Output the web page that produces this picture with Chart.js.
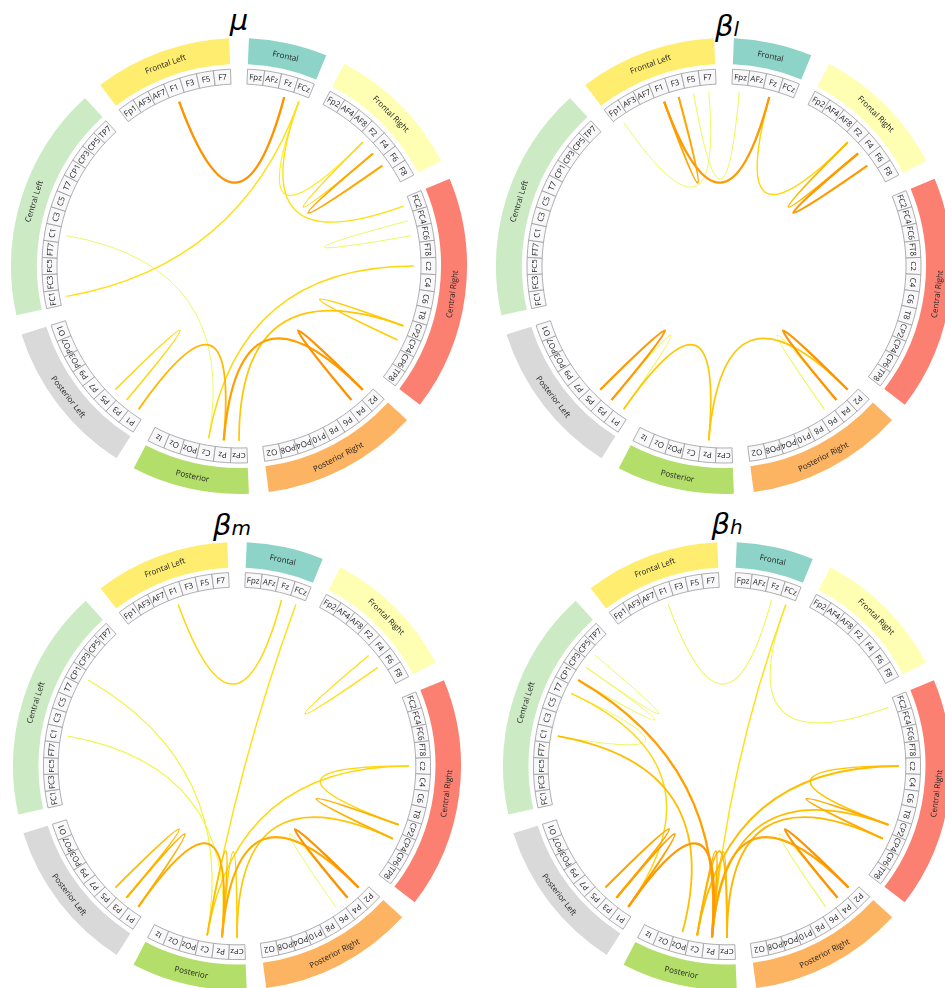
<!DOCTYPE html>
<html>
<head>
<meta charset="utf-8">
<script src="https://cdn.jsdelivr.net/npm/chart.js@4.4.1/dist/chart.umd.min.js"></script>
<style>
  html, body { margin: 0; padding: 0; background: #fff; width: 945px; height: 988px; overflow: hidden; }
  canvas { position: absolute; }
  .title { position: absolute; font-family: "DejaVu Sans"; font-style: italic; font-size: 29px; line-height: 1; color: #000; transform: translateX(-50%); white-space: nowrap; }
  .title span { font-size: 20px; }
</style>
</head>
<body>
<div class="title" style="left:239px; top:6px;">μ</div>
<div class="title" style="left:727px; top:12px;">β<span>l</span></div>
<div class="title" style="left:232px; top:511px;">β<span>m</span></div>
<div class="title" style="left:727px; top:510px;">β<span>h</span></div>
<canvas id="mu"></canvas>
<canvas id="betaLow"></canvas>
<canvas id="betaMid"></canvas>
<canvas id="betaHigh"></canvas>
<script>
var regionNames = ['Frontal', 'Frontal Right', 'Central Right', 'Posterior Right', 'Posterior', 'Posterior Left', 'Central Left', 'Frontal Left'];
var regionColors = ['#8dd3c7', '#ffffb3', '#fb8072', '#fdb462', '#b3de69', '#d9d9d9', '#ccebc5', '#ffed6f'];
var regionElectrodes = [
  ['Fpz', 'AFz', 'Fz', 'FCz'],
  ['Fp2', 'AF4', 'AF8', 'F2', 'F4', 'F6', 'F8'],
  ['FC2', 'FC4', 'FC6', 'FT8', 'C2', 'C4', 'C6', 'T8', 'CP2', 'CP4', 'CP6', 'TP8'],
  ['P2', 'P4', 'P6', 'P8', 'P10', 'PO4', 'PO8', 'O2'],
  ['CPz', 'Pz', 'Cz', 'POz', 'Oz', 'Iz'],
  ['P1', 'P3', 'P5', 'P7', 'P9', 'PO3', 'PO7', 'O1'],
  ['FC1', 'FC3', 'FC5', 'FT7', 'C1', 'C3', 'C5', 'T7', 'CP1', 'CP3', 'CP5', 'TP7'],
  ['Fp1', 'AF3', 'AF7', 'F1', 'F3', 'F5', 'F7']
];

// connections per band: [from, to, strength 0..1]
var muLinks = [
  ['F1', 'Fz', 0.85], ['FCz', 'FC1', 0.3], ['FCz', 'F2', 0.2], ['FCz', 'FC2', 0.3],
  ['F2', 'F4', 0.35], ['F4', 'F6', 0.7], ['FC4', 'FC6', 0.05], ['C1', 'Cz', 0.05],
  ['C2', 'Cz', 0.35], ['CP2', 'CP4', 0.4], ['CP2', 'CPz', 0.45], ['P2', 'P4', 0.85],
  ['Pz', 'P2', 0.75], ['P1', 'Pz', 0.55], ['P3', 'P5', 0.35]
];
var betaLowLinks = [
  ['Fp1', 'F7', 0.05], ['F5', 'Fpz', 0.08], ['F1', 'F3', 0.7], ['F1', 'Fz', 0.8],
  ['Fz', 'F2', 0.35], ['F2', 'F4', 0.55], ['F4', 'F6', 0.8], ['P3', 'P5', 0.8],
  ['P1', 'P3', 0.1], ['P1', 'Pz', 0.45], ['Pz', 'P2', 0.45], ['P2', 'P4', 0.85],
  ['P4', 'P6', 0.1]
];
var betaMidLinks = [
  ['F1', 'Fz', 0.35], ['FCz', 'Cz', 0.3], ['F4', 'F6', 0.3], ['CP1', 'Cz', 0.15],
  ['C1', 'Pz', 0.1], ['C2', 'CP2', 0.35], ['C2', 'Cz', 0.35], ['CP2', 'CP4', 0.6],
  ['CPz', 'CP4', 0.45], ['P2', 'P4', 0.85], ['P4', 'P6', 0.05], ['Pz', 'P2', 0.65],
  ['P1', 'Pz', 0.65], ['P3', 'P5', 0.5], ['P1', 'P3', 0.6], ['Cz', 'Pz', 0.5],
  ['Pz', 'CPz', 0.4]
];
var betaHighLinks = [
  ['F1', 'Fz', 0.1], ['FCz', 'Pz', 0.3], ['FCz', 'FC2', 0.1], ['CP5', 'CP3', 0.05],
  ['CP3', 'CP1', 0.1], ['CP1', 'Pz', 0.75], ['C1', 'POz', 0.5], ['C1', 'T7', 0.05],
  ['T7', 'P1', 0.35], ['P3', 'P5', 0.7], ['P1', 'P3', 0.75], ['P1', 'Pz', 0.8],
  ['C2', 'CP2', 0.45], ['C2', 'Cz', 0.5], ['CP2', 'CP4', 0.65], ['CPz', 'CP4', 0.55],
  ['Pz', 'CP2', 0.5], ['P2', 'P4', 0.85], ['P4', 'P6', 0.1], ['Pz', 'P2', 0.7],
  ['Cz', 'Pz', 0.6], ['Pz', 'CPz', 0.5], ['Cz', 'CPz', 0.55]
];

var panels = [
  { id: 'mu', links: muLinks, cx: 239, cy: 266, R: 228 },
  { id: 'betaLow', links: betaLowLinks, cx: 724, cy: 266, R: 228 },
  { id: 'betaMid', links: betaMidLinks, cx: 237, cy: 766, R: 224 },
  { id: 'betaHigh', links: betaHighLinks, cx: 727, cy: 766, R: 224 }
];

// one slot per electrode, plus an empty slot after every region
var slots = [];
regionElectrodes.forEach(function (list, r) {
  list.forEach(function (name) { slots.push({ name: name, region: r }); });
  slots.push(null);
});

// Wistia colour map
var wistiaStops = [[0, [228, 255, 122]], [0.25, [255, 232, 26]], [0.5, [255, 189, 0]], [0.75, [255, 160, 0]], [1, [252, 127, 0]]];
function wistia(v) {
  for (var i = 1; i < wistiaStops.length; i++) {
    if (v <= wistiaStops[i][0]) {
      var a = wistiaStops[i - 1], b = wistiaStops[i];
      var t = (v - a[0]) / (b[0] - a[0]);
      var c = a[1].map(function (x, k) { return Math.round(x + (b[1][k] - x) * t); });
      return 'rgb(' + c.join(',') + ')';
    }
  }
  return 'rgb(252,127,0)';
}

var chordPlugin = {
  id: 'chords',
  afterDatasetsDraw: function (chart) {
    var ctx = chart.ctx;
    var links = chart.options.plugins.chords.links;
    var regionArcs = chart.getDatasetMeta(0).data;
    var boxArcs = chart.getDatasetMeta(2).data;
    var byName = {};

    // electrode labels
    ctx.save();
    ctx.font = '8px "Open Sans"';
    ctx.fillStyle = '#222';
    ctx.textAlign = 'center';
    ctx.textBaseline = 'middle';
    boxArcs.forEach(function (arc, i) {
      if (!slots[i]) return;
      var p = arc.getProps(['x', 'y', 'startAngle', 'endAngle', 'innerRadius', 'outerRadius'], true);
      var a = (p.startAngle + p.endAngle) / 2;
      var r = (p.innerRadius + p.outerRadius) / 2;
      byName[slots[i].name] = { a: a, r: p.innerRadius, x: p.x, y: p.y };
      ctx.save();
      ctx.translate(p.x + r * Math.cos(a), p.y + r * Math.sin(a));
      ctx.rotate(a + Math.PI / 2);
      ctx.fillText(slots[i].name, 0, 0.5);
      ctx.restore();
    });

    // region labels, kept upright
    ctx.font = '8px "Open Sans"';
    ctx.fillStyle = '#222';
    var ri = 0;
    regionArcs.forEach(function (arc, i) {
      if (i % 2) return;
      var p = arc.getProps(['x', 'y', 'startAngle', 'endAngle', 'innerRadius', 'outerRadius'], true);
      var a = (p.startAngle + p.endAngle) / 2;
      var r = (p.innerRadius + p.outerRadius) / 2;
      var rot = a + Math.PI / 2;
      rot = Math.atan2(Math.sin(rot), Math.cos(rot));
      if (rot > Math.PI / 2 || rot < -Math.PI / 2) rot += Math.PI;
      ctx.save();
      ctx.translate(p.x + r * Math.cos(a), p.y + r * Math.sin(a));
      ctx.rotate(rot);
      ctx.fillText(regionNames[ri], 0, 0.5);
      ctx.restore();
      ri++;
    });

    // chords: quadratic curves through the centre, weakest drawn first
    var gap = 7 * chart.options.plugins.chords.scale;
    links.slice().sort(function (l1, l2) { return l1[2] - l2[2]; }).forEach(function (link) {
      var s = byName[link[0]], t = byName[link[1]];
      ctx.beginPath();
      ctx.moveTo(s.x + (s.r - gap) * Math.cos(s.a), s.y + (s.r - gap) * Math.sin(s.a));
      ctx.quadraticCurveTo(s.x, s.y, t.x + (t.r - gap) * Math.cos(t.a), t.y + (t.r - gap) * Math.sin(t.a));
      ctx.strokeStyle = wistia(link[2]);
      ctx.lineWidth = 0.9 + 1.8 * link[2];
      ctx.stroke();
    });
    ctx.restore();
  }
};

panels.forEach(function (panel) {
  var canvas = document.getElementById(panel.id);
  var size = 2 * panel.R + 8;
  canvas.width = size;
  canvas.height = size;
  canvas.style.left = (panel.cx - size / 2) + 'px';
  canvas.style.top = (panel.cy - size / 2) + 'px';

  var regionData = [], regionFill = [];
  regionElectrodes.forEach(function (list, r) {
    regionData.push(list.length, 1);
    regionFill.push(regionColors[r], 'rgba(0,0,0,0)');
  });

  new Chart(canvas.getContext('2d'), {
    type: 'doughnut',
    data: {
      labels: slots.map(function (s) { return s ? s.name : ''; }),
      datasets: [
        { data: regionData, backgroundColor: regionFill, borderWidth: 0, weight: 26 },
        { data: [1], backgroundColor: 'rgba(0,0,0,0)', borderWidth: 0, weight: 5 },
        {
          data: slots.map(function () { return 1; }),
          backgroundColor: slots.map(function (s) { return s ? '#f8f8fa' : 'rgba(0,0,0,0)'; }),
          borderColor: slots.map(function (s) { return s ? '#9a9a9a' : 'rgba(0,0,0,0)'; }),
          borderWidth: slots.map(function (s) { return s ? 0.8 : 0; }),
          weight: 15
        }
      ]
    },
    options: {
      responsive: false,
      animation: false,
      events: [],
      rotation: 2.5,
      radius: panel.R,
      cutout: (182 / 228 * 100) + '%',
      layout: { padding: 0 },
      plugins: {
        legend: { display: false },
        tooltip: { enabled: false },
        chords: { links: panel.links, scale: panel.R / 228 }
      }
    },
    plugins: [chordPlugin]
  });
});
</script>
</body>
</html>
